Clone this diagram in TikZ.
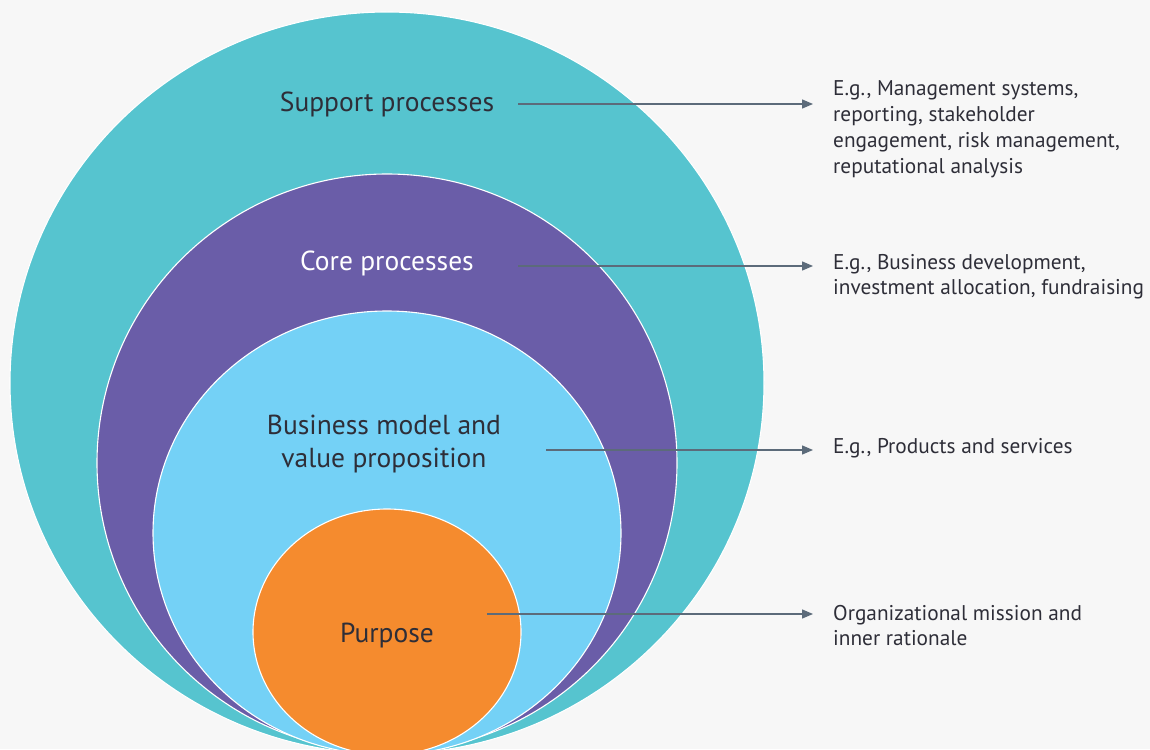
\documentclass[tikz,border=0pt]{standalone}
\usepackage{fontspec}
\setmainfont{PT Sans}
\usetikzlibrary{arrows.meta}
\definecolor{bg}{HTML}{F7F7F7}
\definecolor{teal}{HTML}{56C4CF}
\definecolor{purp}{HTML}{6A5DA8}
\definecolor{lblue}{HTML}{74D1F6}
\definecolor{orng}{HTML}{F58B2E}
\definecolor{arrowc}{HTML}{5C6B7A}
\definecolor{txt}{HTML}{2E2E38}
\tikzset{
  ring/.style={draw=white, line width=1.1pt},
  biglabel/.style={anchor=base, inner sep=0pt, font=\fontsize{27.5}{33}\selectfont},
  desc/.style={anchor=base west, inner sep=0pt, text=txt, font=\fontsize{21.3}{25.7}\selectfont},
  pointer/.style={draw=arrowc, line width=1.3pt, -{Triangle[length=11pt,width=9pt]}}
}
\begin{document}
\begin{tikzpicture}[x=1pt,y=-1pt]
\useasboundingbox (0,0) rectangle (1150,749);
\fill[bg] (0,0) rectangle (1150,749);
\begin{scope}
\clip (0,0) rectangle (1150,749);
\fill[teal, ring] (387,383) ellipse [x radius=377pt, y radius=371pt];
\fill[purp, ring] (387,463) ellipse [x radius=290pt, y radius=289pt];
\fill[lblue, ring] (387,533) ellipse [x radius=234pt, y radius=222pt];
\fill[orng, ring] (387,632) ellipse [x radius=134pt, y radius=123pt];
\end{scope}

\node[biglabel, text=txt] (support) at (387,112) {Support processes};
\node[biglabel, text=white] (core) at (387,270) {Core processes};
\node[biglabel, text=txt] (business) at (384,434) {\begin{tabular}[t]{@{}c@{}}Business model and\\value proposition\end{tabular}};
\node[biglabel, text=txt] (purpose) at (387,642) {Purpose};

\node[desc] (d1) at (833,96) {\begin{tabular}[t]{@{}l@{}}E.g., Management systems,\\reporting, stakeholder\\engagement, risk management,\\reputational analysis\end{tabular}};
\node[desc] (d2) at (833,269) {\begin{tabular}[t]{@{}l@{}}E.g., Business development,\\investment allocation, fundraising\end{tabular}};
\node[desc] (d3) at (833,453) {E.g., Products and services};
\node[desc] (d4) at (833,620) {\begin{tabular}[t]{@{}l@{}}Organizational mission and\\inner rationale\end{tabular}};

\coordinate (s1) at (518,104);
\coordinate (e1) at (813,104);
\coordinate (s2) at (518,266);
\coordinate (e2) at (813,266);
\coordinate (s3) at (546,450);
\coordinate (e3) at (813,450);
\coordinate (s4) at (487,614);
\coordinate (e4) at (813,614);
\draw[pointer] (s1) -- (e1);
\draw[pointer] (s2) -- (e2);
\draw[pointer] (s3) -- (e3);
\draw[pointer] (s4) -- (e4);
\end{tikzpicture}
\end{document}
